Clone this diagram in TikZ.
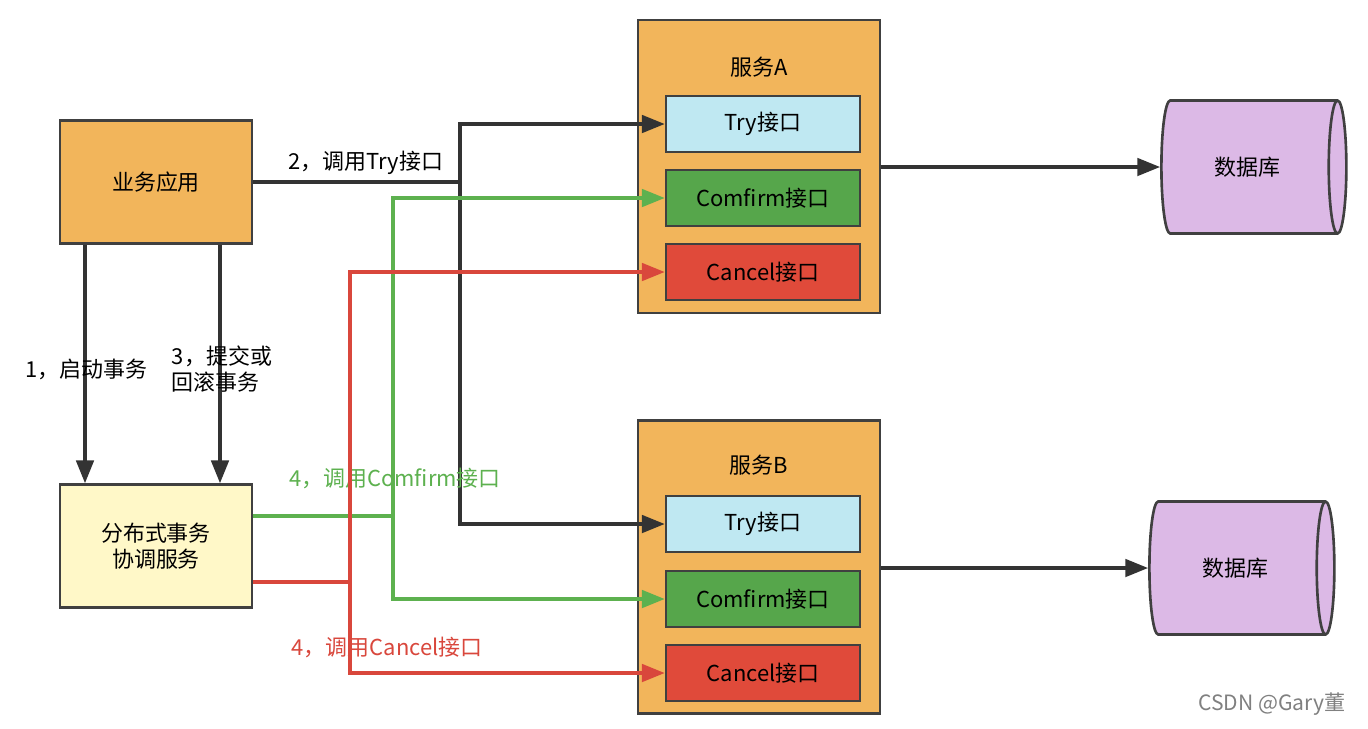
\documentclass[tikz,border=0pt]{standalone}
\usepackage{fontspec}
\setmainfont{Noto Sans CJK SC}
\usetikzlibrary{arrows.meta,shapes.geometric,positioning}
\definecolor{boxorange}{HTML}{F2B55B}
\definecolor{boxyellow}{HTML}{FFF8C8}
\definecolor{trycyan}{HTML}{BFE8F2}
\definecolor{okgreen}{HTML}{56A64B}
\definecolor{badred}{HTML}{E04A3A}
\definecolor{dbpurple}{HTML}{DCB9E6}
\definecolor{lgreen}{HTML}{5DB14F}
\definecolor{lred}{HTML}{D9473C}
\tikzset{
    box/.style={draw=black!75, line width=1.5pt, minimum width=3.84cm, minimum height=2.46cm, align=center},
    iface/.style={draw=black!75, line width=1.5pt, minimum width=3.88cm, minimum height=1.12cm},
    svc/.style={draw=black!75, line width=1.5pt, fill=boxorange, minimum width=4.84cm, minimum height=5.86cm},
    db/.style={cylinder, draw=black!75, line width=1.5pt, fill=dbpurple, minimum width=2.66cm, minimum height=3.7cm, aspect=0.55},
    link/.style={line width=1.8pt, -{Triangle[length=13pt,width=10pt]}},
    lbl/.style={font=\fontsize{12.5}{15}\selectfont}
}
\begin{document}
\begin{tikzpicture}[x=0.02cm, y=-0.02cm, font=\fontsize{12.5}{15}\selectfont]
    \useasboundingbox[fill=white] (0,0) rectangle (1368,728);
    % left side
    \node[box, fill=boxorange] (app) at (156,182) {业务应用};
    \node[box, fill=boxyellow] (tc) at (156,546) {分布式事务\\协调服务};
    % services
    \node[svc] (sa) at (759,166.5) {};
    \node[lbl] at (759,67) {服务A};
    \node[iface, fill=trycyan] (tryA) at (763,124) {Try接口};
    \node[iface, fill=okgreen] (cfA) at (763,198) {Comfirm接口};
    \node[iface, fill=badred] (caA) at (763,272) {Cancel接口};
    \node[svc] (sb) at (759,567) {};
    \node[lbl] at (759,465) {服务B};
    \node[iface, fill=trycyan] (tryB) at (763,524) {Try接口};
    \node[iface, fill=okgreen] (cfB) at (763,599) {Comfirm接口};
    \node[iface, fill=badred] (caB) at (763,673) {Cancel接口};
    % databases
    \node[db] (dbA) at (1247,167) {数据库};
    \node[db] (dbB) at (1235,568) {数据库};
    \draw[link, black!80] (sa.east |- 0,167) -- (dbA.west);
    \draw[link, black!80] (sb.east |- 0,568) -- (dbB.west);
    % begin / commit
    \draw[link, black!80] (app.south -| 85,0) -- (tc.north -| 85,0);
    \draw[link, black!80] (app.south -| 220,0) -- (tc.north -| 220,0);
    \node[lbl] at (86,369) {1，启动事务};
    \node[lbl, align=left] at (222,369) {3，提交或\\回滚事务};
    % try
    \coordinate (tj) at (460,182);
    \draw[line width=1.8pt, black!80] (app.east |- tj) -- (tj);
    \draw[link, black!80] (tj) |- (tryA.west);
    \draw[link, black!80] (tj) |- (tryB.west);
    \node[lbl] at (366,163) {2，调用Try接口};
    % confirm
    \coordinate (gj) at (393,516);
    \draw[line width=1.8pt, lgreen] (tc.east |- gj) -- (gj);
    \draw[link, lgreen] (gj) |- (cfA.west);
    \draw[link, lgreen] (gj) |- (cfB.west);
    \node[lbl, text=lgreen] at (395,478) {4，调用Comfirm接口};
    % cancel
    \coordinate (rj) at (350,582);
    \draw[line width=1.8pt, lred] (tc.east |- rj) -- (rj);
    \draw[link, lred] (rj) |- (caA.west);
    \draw[link, lred] (rj) |- (caB.west);
    \node[lbl, text=lred] at (387,647) {4，调用Cancel接口};
    \node[text=black!50, font=\fontsize{12}{14}\selectfont] at (1272,704) {CSDN @Gary董};
\end{tikzpicture}
\end{document}
